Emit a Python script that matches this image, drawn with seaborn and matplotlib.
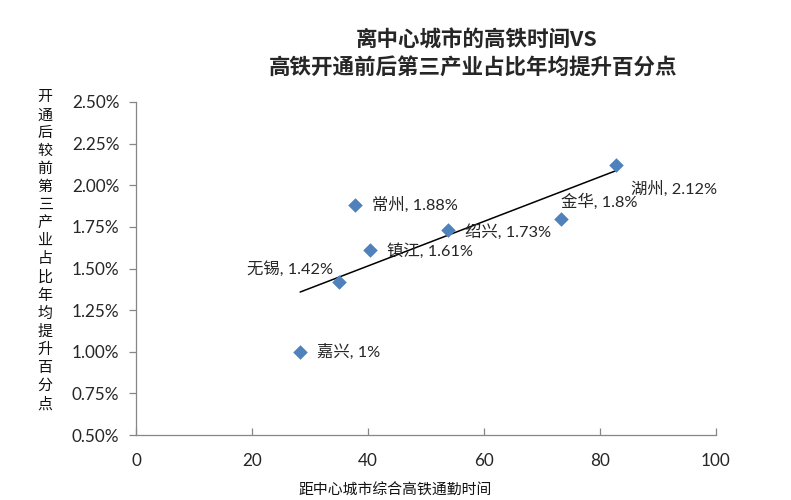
import matplotlib
matplotlib.use("Agg")
import matplotlib.pyplot as plt
import seaborn as sns
import pandas as pd
import numpy as np

cities = ["嘉兴", "无锡", "常州", "镇江", "绍兴", "金华", "湖州"]
commute_time = [28.3, 35.0, 37.8, 40.4, 53.8, 73.3, 82.7]
increase_pct = [1.00, 1.42, 1.88, 1.61, 1.73, 1.80, 2.12]
label_texts = ["1%", "1.42%", "1.88%", "1.61%", "1.73%", "1.8%", "2.12%"]
y_ticks = [0.50, 0.75, 1.00, 1.25, 1.50, 1.75, 2.00, 2.25, 2.50]
x_ticks = [0, 20, 40, 60, 80, 100]

df = pd.DataFrame({"city": cities, "x": commute_time, "y": increase_pct, "lab": label_texts})

sns.set_theme(style="white")
plt.rcParams["font.family"] = ["Lato", "Noto Sans CJK SC", "DejaVu Sans"]

fig = plt.figure(figsize=(7.91, 5.0), dpi=100)
ax = fig.add_axes([0.172, 0.13, 0.733, 0.666])

sns.regplot(data=df, x="x", y="y", scatter=False, ci=None, ax=ax,
            line_kws=dict(color="black", lw=1.1))
sns.scatterplot(data=df, x="x", y="y", marker="D", s=55, color="#4F81BD",
                edgecolor="#4F81BD", linewidth=0, ax=ax, zorder=3)

# label offsets in points (dx, dy, ha, va)
offsets = {
    "嘉兴": (12, 0, "left", "center"),
    "无锡": (-4, 9, "right", "center"),
    "常州": (12, 0, "left", "center"),
    "镇江": (12, -1, "left", "center"),
    "绍兴": (12, -1, "left", "center"),
    "金华": (0, 12, "left", "center"),
    "湖州": (11, -17, "left", "center"),
}
for _, r in df.iterrows():
    dx, dy, ha, va = offsets[r["city"]]
    ax.annotate(f"{r['city']}, {r['lab']}", (r["x"], r["y"]), xytext=(dx, dy),
                textcoords="offset points", ha=ha, va=va, fontsize=11.8,
                color="#262626")

ax.set_xlim(0, 100)
ax.set_ylim(0.5, 2.5)
ax.set_xticks(x_ticks)
ax.set_yticks(y_ticks)
ax.set_xticklabels([str(v) for v in x_ticks], fontsize=12.3, color="#262626")
ax.set_yticklabels([f"{v:.2f}%" for v in y_ticks], fontsize=12.3, color="#262626")
ax.set_xlabel("")
ax.set_ylabel("")

for s in ["top", "right"]:
    ax.spines[s].set_visible(False)
for s in ["left", "bottom"]:
    ax.spines[s].set_color("#868686")
    ax.spines[s].set_linewidth(0.9)
ax.tick_params(axis="y", direction="out", length=5, color="#868686", width=0.9, left=True, pad=7)
ax.tick_params(axis="x", direction="in", length=5, color="#868686", width=0.9, bottom=True, pad=13)

fig.text(0.602, 0.92, "离中心城市的高铁时间VS", ha="center", va="center",
         fontsize=15.5, fontweight="bold", family=["Noto Sans CJK SC", "DejaVu Sans"])
fig.text(0.598, 0.864, "高铁开通前后第三产业占比年均提升百分点", ha="center", va="center",
         fontsize=15.5, fontweight="bold", family=["Noto Sans CJK SC", "DejaVu Sans"])

ylab = "开通后较前第三产业占比年均提升百分点"
fig.text(0.057, 0.498, "\n".join(ylab), ha="center", va="center", fontsize=10.8,
         linespacing=1.36, family=["Noto Sans CJK SC", "DejaVu Sans"], color="#111111")
fig.text(0.5, 0.018, "距中心城市综合高铁通勤时间", ha="center", va="center", fontsize=10.7,
         family=["Noto Sans CJK SC", "DejaVu Sans"], color="#111111")

fig.savefig("out.png", dpi=100)
